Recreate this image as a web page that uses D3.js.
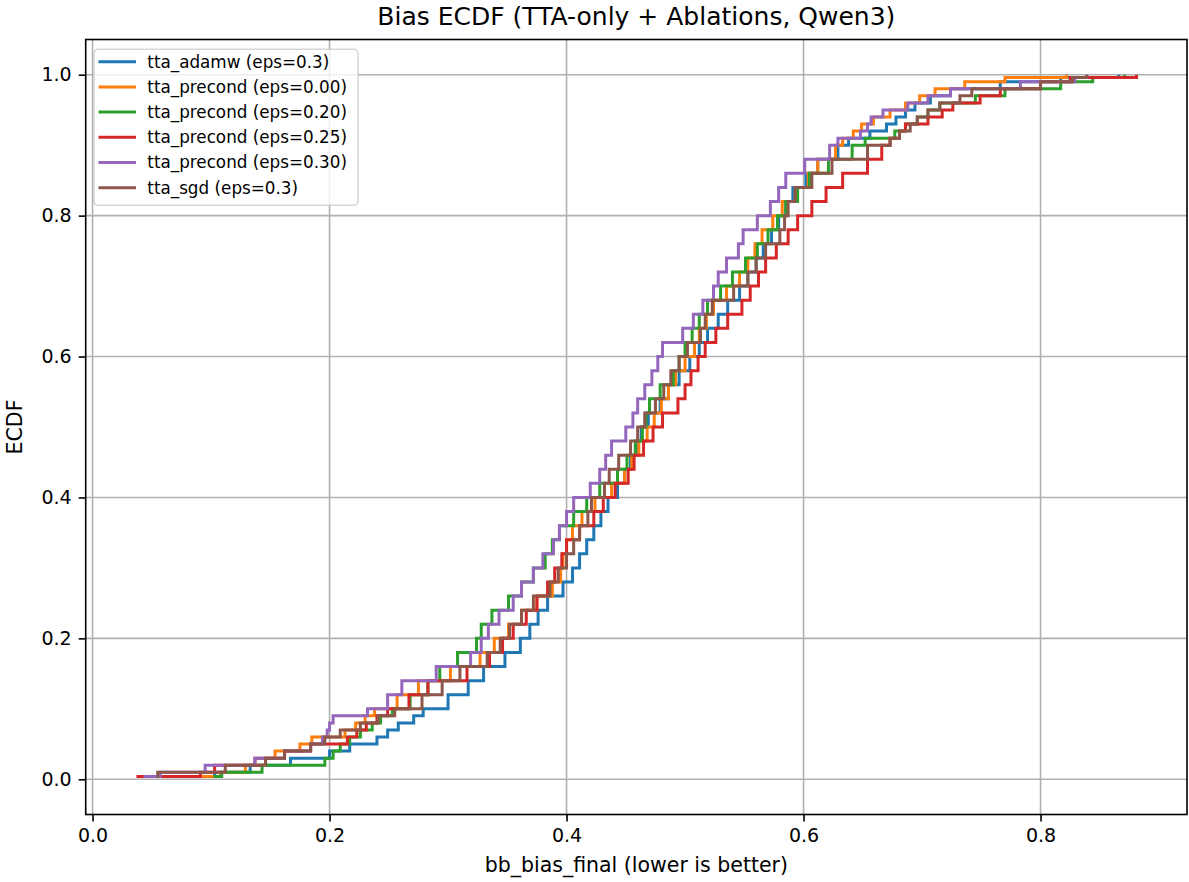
<!DOCTYPE html>
<html>
<head>
<meta charset="utf-8">
<script src="https://cdn.jsdelivr.net/npm/d3@7"></script>
<style>
  body { margin: 0; background: #fff; }
  svg { display: block; }
  text { font-family: "DejaVu Sans", sans-serif; fill: #000; }
</style>
</head>
<body>
<div id="chart"></div>
<script>
// ECDF levels shared by every series; each series gives the bias value at which it reaches that level
const levels = [0.004, 0.01, 0.02, 0.03, 0.04, 0.05, 0.06, 0.07, 0.08, 0.09, 0.10,
  0.12, 0.14, 0.16, 0.18, 0.20, 0.22, 0.24, 0.26, 0.28, 0.30,
  0.32, 0.34, 0.36, 0.38, 0.40, 0.42, 0.44, 0.46, 0.48, 0.50,
  0.52, 0.54, 0.56, 0.58, 0.60, 0.62, 0.64, 0.66, 0.68, 0.70,
  0.72, 0.74, 0.76, 0.78, 0.80, 0.82, 0.84, 0.86, 0.88, 0.90,
  0.91, 0.92, 0.93, 0.94, 0.95, 0.96, 0.97, 0.98, 0.99, 0.996, 1.0];

const tta_adamw = [0.082, 0.103, 0.133, 0.167, 0.200, 0.217, 0.240, 0.249, 0.258, 0.271, 0.279,
  0.300, 0.317, 0.330, 0.348, 0.361, 0.369, 0.376, 0.384, 0.397, 0.405,
  0.411, 0.417, 0.423, 0.429, 0.435, 0.443, 0.449, 0.454, 0.459, 0.463,
  0.469, 0.479, 0.486, 0.495, 0.504, 0.512, 0.519, 0.528, 0.536, 0.546,
  0.553, 0.560, 0.566, 0.573, 0.579, 0.585, 0.591, 0.602, 0.612, 0.629,
  0.638, 0.656, 0.670, 0.678, 0.686, 0.694, 0.707, 0.724, 0.766, 0.817, 0.866];

const tta_precond_000 = [0.076, 0.108, 0.129, 0.146, 0.154, 0.175, 0.185, 0.213, 0.222, 0.230, 0.238,
  0.257, 0.275, 0.302, 0.327, 0.339, 0.351, 0.362, 0.375, 0.388, 0.395,
  0.397, 0.400, 0.405, 0.413, 0.424, 0.438, 0.449, 0.455, 0.461, 0.468,
  0.474, 0.480, 0.486, 0.492, 0.500, 0.508, 0.512, 0.518, 0.524, 0.535,
  0.546, 0.553, 0.559, 0.565, 0.574, 0.582, 0.593, 0.604, 0.612, 0.627,
  0.633, 0.642, 0.649, 0.659, 0.673, 0.686, 0.698, 0.711, 0.736, 0.770, 0.822];

const tta_precond_020 = [0.102, 0.109, 0.143, 0.196, 0.203, 0.209, 0.217, 0.226, 0.236, 0.243, 0.253,
  0.268, 0.283, 0.293, 0.308, 0.324, 0.328, 0.337, 0.351, 0.362, 0.372,
  0.382, 0.388, 0.394, 0.406, 0.417, 0.428, 0.443, 0.451, 0.458, 0.464,
  0.467, 0.470, 0.479, 0.490, 0.495, 0.500, 0.506, 0.512, 0.519, 0.530,
  0.540, 0.551, 0.561, 0.570, 0.578, 0.585, 0.595, 0.605, 0.621, 0.641,
  0.652, 0.677, 0.686, 0.696, 0.705, 0.715, 0.745, 0.770, 0.817, 0.844, 0.871];

const tta_precond_025 = [0.037, 0.091, 0.103, 0.137, 0.162, 0.184, 0.215, 0.223, 0.231, 0.240, 0.249,
  0.267, 0.283, 0.316, 0.335, 0.346, 0.355, 0.366, 0.375, 0.384, 0.390,
  0.396, 0.400, 0.411, 0.423, 0.431, 0.441, 0.452, 0.457, 0.465, 0.473,
  0.481, 0.494, 0.500, 0.505, 0.511, 0.517, 0.526, 0.536, 0.548, 0.555,
  0.562, 0.568, 0.577, 0.587, 0.595, 0.607, 0.619, 0.633, 0.654, 0.666,
  0.673, 0.681, 0.686, 0.705, 0.717, 0.726, 0.749, 0.766, 0.800, 0.825, 0.881];

const tta_precond_030 = [0.043, 0.057, 0.095, 0.137, 0.162, 0.184, 0.194, 0.198, 0.200, 0.203, 0.232,
  0.249, 0.261, 0.290, 0.319, 0.328, 0.334, 0.343, 0.355, 0.362, 0.372,
  0.380, 0.389, 0.394, 0.400, 0.406, 0.420, 0.428, 0.433, 0.438, 0.450,
  0.456, 0.460, 0.466, 0.472, 0.477, 0.481, 0.498, 0.507, 0.515, 0.524,
  0.528, 0.535, 0.545, 0.549, 0.561, 0.572, 0.579, 0.585, 0.601, 0.622,
  0.629, 0.648, 0.654, 0.657, 0.667, 0.688, 0.705, 0.724, 0.783, 0.829, 0.839];

const tta_sgd = [0.054, 0.055, 0.112, 0.146, 0.162, 0.184, 0.196, 0.209, 0.226, 0.241, 0.255,
  0.278, 0.295, 0.310, 0.333, 0.344, 0.352, 0.362, 0.372, 0.386, 0.393,
  0.400, 0.406, 0.411, 0.418, 0.421, 0.432, 0.436, 0.444, 0.454, 0.460,
  0.466, 0.475, 0.482, 0.488, 0.495, 0.502, 0.513, 0.517, 0.523, 0.541,
  0.553, 0.560, 0.568, 0.580, 0.584, 0.587, 0.593, 0.607, 0.624, 0.654,
  0.673, 0.681, 0.690, 0.696, 0.705, 0.715, 0.732, 0.742, 0.800, 0.827, 0.839];

const seriesLabels = ['tta_adamw (eps=0.3)', 'tta_precond (eps=0.00)', 'tta_precond (eps=0.20)',
  'tta_precond (eps=0.25)', 'tta_precond (eps=0.30)', 'tta_sgd (eps=0.3)'];
const seriesValues = [tta_adamw, tta_precond_000, tta_precond_020, tta_precond_025, tta_precond_030, tta_sgd];

const xTicks = [0.0, 0.2, 0.4, 0.6, 0.8];
const yTicks = [0.0, 0.2, 0.4, 0.6, 0.8, 1.0];

const colors = ['#1f77b4', '#ff7f0e', '#2ca02c', '#d62728', '#9467bd', '#8c564b'];

const width = 1189, height = 882;
const plot = { left: 85.7, right: 1187, top: 39.5, bottom: 814.5 };

const svg = d3.select('#chart')
  .append('svg')
  .attr('width', width)
  .attr('height', height);

const x = d3.scaleLinear().domain([-0.0058, 0.9236]).range([plot.left, plot.right]);
const y = d3.scaleLinear().domain([-0.05, 1.05]).range([plot.bottom, plot.top]);

// grid
const grid = svg.append('g').attr('stroke', '#b0b0b0').attr('stroke-width', 1.6);
grid.selectAll('.gx').data(xTicks).enter().append('line')
  .attr('x1', d => x(d)).attr('x2', d => x(d))
  .attr('y1', plot.top).attr('y2', plot.bottom);
grid.selectAll('.gy').data(yTicks).enter().append('line')
  .attr('x1', plot.left).attr('x2', plot.right)
  .attr('y1', d => y(d)).attr('y2', d => y(d));

// ecdf step lines
const line = d3.line()
  .x(d => x(d[0]))
  .y(d => y(d[1]))
  .curve(d3.curveStepAfter);

svg.append('g')
  .selectAll('path')
  .data(seriesValues)
  .enter()
  .append('path')
  .attr('fill', 'none')
  .attr('stroke', (d, i) => colors[i])
  .attr('stroke-width', 3)
  .attr('stroke-linejoin', 'miter')
  .attr('d', vals => line(vals.map((v, i) => [v, levels[i]])));

// axes
const fmt = d3.format('.1f');
const xAxis = svg.append('g')
  .attr('transform', `translate(0,${plot.bottom})`)
  .call(d3.axisBottom(x).tickValues(xTicks).tickFormat(fmt).tickSize(7).tickPadding(7));
const yAxis = svg.append('g')
  .attr('transform', `translate(${plot.left},0)`)
  .call(d3.axisLeft(y).tickValues(yTicks).tickFormat(fmt).tickSize(7).tickPadding(7));

[xAxis, yAxis].forEach(a => {
  a.select('.domain').remove();
  a.selectAll('line').attr('stroke', '#000').attr('stroke-width', 1.6);
  a.selectAll('text').attr('font-family', '"DejaVu Sans", sans-serif').attr('font-size', 19).attr('fill', '#000');
});

// frame
svg.append('rect')
  .attr('x', plot.left).attr('y', plot.top)
  .attr('width', plot.right - plot.left).attr('height', plot.bottom - plot.top)
  .attr('fill', 'none').attr('stroke', '#000').attr('stroke-width', 1.6);

// labels
svg.append('text')
  .attr('x', (plot.left + plot.right) / 2).attr('y', 25)
  .attr('text-anchor', 'middle').attr('font-size', 25)
  .text('Bias ECDF (TTA-only + Ablations, Qwen3)');

svg.append('text')
  .attr('x', (plot.left + plot.right) / 2).attr('y', 872)
  .attr('text-anchor', 'middle').attr('font-size', 20.5)
  .text('bb_bias_final (lower is better)');

svg.append('text')
  .attr('transform', `translate(22,${(plot.top + plot.bottom) / 2}) rotate(-90)`)
  .attr('text-anchor', 'middle').attr('font-size', 20.5)
  .text('ECDF');

// legend
const lg = svg.append('g').attr('transform', 'translate(94,49.3)');
lg.append('rect')
  .attr('width', 264).attr('height', 156).attr('rx', 4)
  .attr('fill', '#fff').attr('fill-opacity', 0.8)
  .attr('stroke', '#cccccc').attr('stroke-opacity', 0.8).attr('stroke-width', 1.6);

const items = lg.selectAll('.item')
  .data(seriesLabels)
  .enter()
  .append('g')
  .attr('transform', (d, i) => `translate(0,${12.4 + i * 25.2})`);

items.append('line')
  .attr('x1', 4.5).attr('x2', 42)
  .attr('stroke', (d, i) => colors[i]).attr('stroke-width', 3);

items.append('text')
  .attr('x', 53.3).attr('dy', '0.35em')
  .attr('font-size', 16.8)
  .text(d => d);
</script>
</body>
</html>
